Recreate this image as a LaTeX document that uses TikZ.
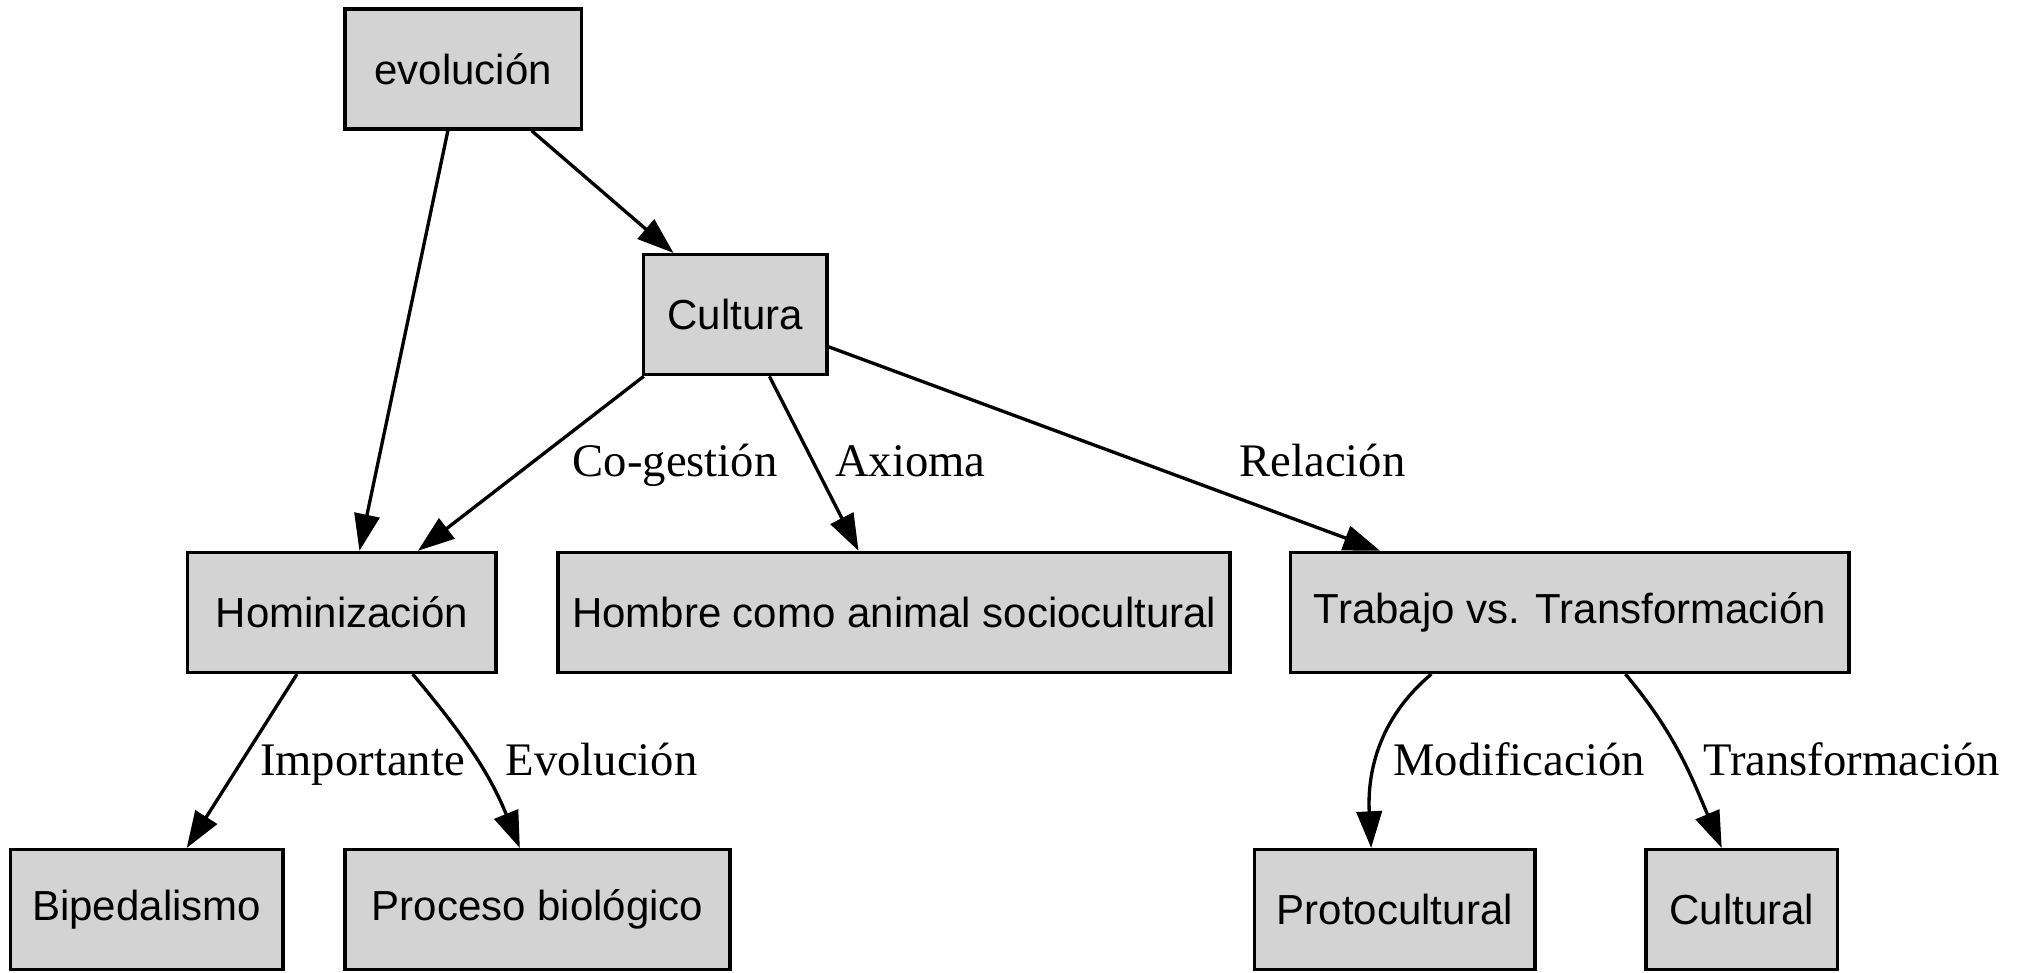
\documentclass[tikz,border=0pt]{standalone}
\usepackage{fontspec}
\setmainfont{Liberation Serif}
\newfontfamily\boxfont{Liberation Sans}
\usetikzlibrary{arrows.meta}
\definecolor{boxgray}{HTML}{D3D3D3}

\begin{document}
\begin{tikzpicture}[x=0.38763pt, y=-0.38763pt,
  box/.style={draw, line width=1pt, fill=boxgray, minimum height=36pt, inner sep=0pt,
    font=\boxfont\fontsize{12.6}{15}\selectfont},
  edge/.style={-{Triangle[length=11pt,width=7.6pt]}, line width=1pt},
  lbl/.style={anchor=base west, inner sep=0pt, font=\fontsize{14}{16}\selectfont}]
  \useasboundingbox (0,0) rectangle (1568,753);

  \node[box, minimum width=70.9pt]  (evo) at (358.5,53.5) {evolución};
  \node[box, minimum width=55pt]    (cul) at (569,243.5) {Cultura};
  \node[box, minimum width=92.6pt]  (hom) at (264.5,474) {Hominización};
  \node[box, minimum width=201.6pt] (hac) at (692,474) {Hombre como animal sociocultural};
  \node[box, minimum width=167.5pt] (tra) at (1215,474) {Trabajo vs. Transformación};
  \node[box, minimum width=81.8pt]  (bip) at (113.5,704) {Bipedalismo};
  \node[box, minimum width=115.5pt] (pro) at (416,704) {Proceso biológico};
  \node[box, minimum width=84.1pt]  (ptc) at (1079.5,704) {Protocultural};
  \node[box, minimum width=57.4pt]  (clt) at (1348,704) {Cultural};

  \draw[edge] (evo.256) -- (hom.74);
  \draw[edge] (evo.318) -- (cul.135);
  \draw[edge] (cul.214) -- (hom.39) node[lbl] (lcog) at (442,369) {Co-gestión};
  \draw[edge] (cul.299) -- (hac.120) node[lbl] (laxi) at (645,369) {Axioma};
  \draw[edge] (cul.341) -- (tra.162) node[lbl] (lrel) at (958,369) {Relación};

  \draw[edge] (hom.234) -- (bip.57) node[lbl] (limp) at (200,600) {Importante};
  \draw[edge] (hom.319) to[out=-50, in=112] (pro.106) node[lbl] (levo) at (390,600) {Evolución};
  \draw[edge] (tra.204) to[out=-140, in=93] (ptc.111) node[lbl] (lmod) at (1077,600) {Modificación};
  \draw[edge] (tra.312) to[out=-50, in=113] (clt.108) node[lbl] (ltra) at (1317,600) {Transformación};
\end{tikzpicture}
\end{document}
